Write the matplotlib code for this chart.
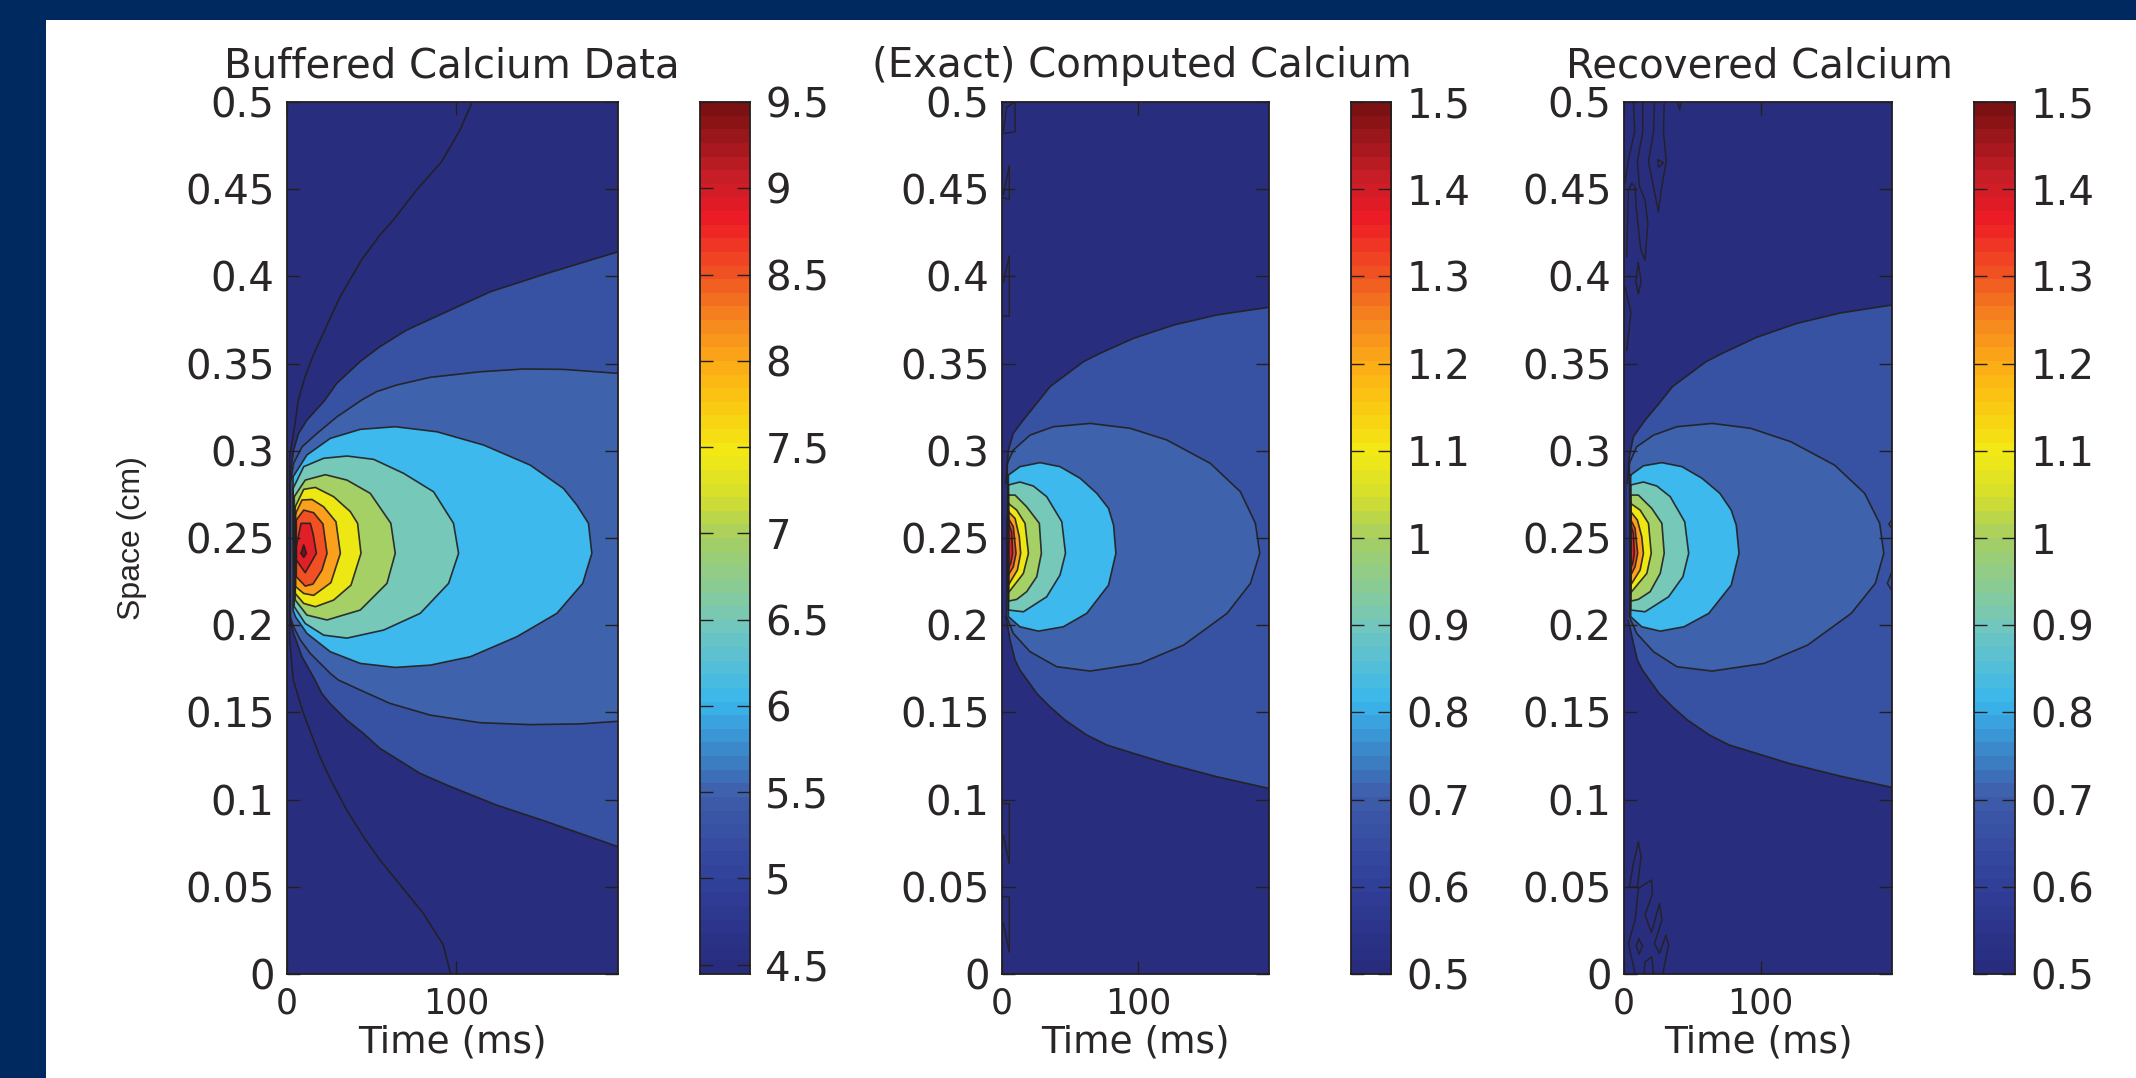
import matplotlib
matplotlib.use("Agg")
import matplotlib.pyplot as plt
import numpy as np
from matplotlib.colors import LinearSegmentedColormap
from matplotlib.patches import Rectangle

W, H = 2136, 1078
DARK = "#231f20"
TEXT = "#2a2627"
NAVY = "#002a5f"

time_ticks = [0, 100]
space_ticks = [0, 0.05, 0.1, 0.15, 0.2, 0.25, 0.3, 0.35, 0.4, 0.45, 0.5]
space_labels = ["0", "0.05", "0.1", "0.15", "0.2", "0.25", "0.3", "0.35", "0.4", "0.45", "0.5"]
titles = ["Buffered Calcium Data", "(Exact) Computed Calcium", "Recovered Calcium"]
cb1_ticks = [4.5, 5, 5.5, 6, 6.5, 7, 7.5, 8, 8.5, 9, 9.5]
cb2_ticks = [0.5, 0.6, 0.7, 0.8, 0.9, 1, 1.1, 1.2, 1.3, 1.4, 1.5]
cb1_range = (4.445, 9.5)
cb2_range = (0.5, 1.5)
time_max = 196

# contour colours, outermost to innermost
c_navy = "#282e7d"
c_blue = "#3752a2"
c_mid = "#3e63ac"
c_cyan = "#3db9ee"
c_teal = "#76c8b8"
c_green = "#a5d065"
c_yellow = "#ede813"
c_orange = "#fba01c"
c_redor = "#f15022"
c_red = "#e01f26"
c_peak = "#7a1214"

# panel 1 contours
p1_outer_t = [109.7, 102.4, 91.5, 76.7, 62.9, 55, 44.1, 31.4, 25.5, 15.6, 10.7, 6.7, 3.9, 1.6, 1.6, 3.7, 9.7, 19.5, 25.4, 35.3, 45.2, 55, 67.9, 80.7, 92.5, 96.8]
p1_outer_y = [0.5, 0.4839, 0.4657, 0.4495, 0.4323, 0.4237, 0.4094, 0.3883, 0.3759, 0.3549, 0.3425, 0.3291, 0.31, 0.2966, 0.1915, 0.1686, 0.1495, 0.1246, 0.1122, 0.0941, 0.0788, 0.0654, 0.0501, 0.0348, 0.0167, 0.0004]
p1_blue_t = [196, 153.9, 120.4, 94.5, 70.8, 55, 43.3, 29.4, 22.5, 11.8, 6.9, 3.9, 2, 2, 3.9, 8.9, 16.6, 20.5, 25.4, 35.3, 45.2, 55, 78.7, 94.5, 124, 153.6, 196]
p1_blue_y = [0.4141, 0.4017, 0.3912, 0.3797, 0.3692, 0.3597, 0.3511, 0.3386, 0.3291, 0.3176, 0.31, 0.3004, 0.287, 0.2029, 0.1953, 0.1819, 0.1686, 0.161, 0.1552, 0.1457, 0.138, 0.1294, 0.1151, 0.1084, 0.0969, 0.0874, 0.073]
p1_mid_t = [196, 163.5, 139.8, 114.2, 84.6, 64.9, 53, 44.2, 29.6, 17.8, 8.9, 3.9, 2, 2, 3.9, 7.9, 13.8, 25.6, 30.4, 43.2, 60.9, 84.6, 114.2, 143.8, 173.4, 196]
p1_mid_y = [0.3444, 0.3467, 0.3469, 0.3453, 0.3421, 0.3377, 0.3339, 0.3291, 0.3195, 0.31, 0.3023, 0.2928, 0.2813, 0.2049, 0.1991, 0.1915, 0.1838, 0.1724, 0.1686, 0.1629, 0.1552, 0.1485, 0.1441, 0.143, 0.1434, 0.1449]
p1_cyan_t = [3.6, 11.8, 25.6, 43.4, 64.1, 88.8, 116.4, 144, 163.7, 171.6, 178.5, 180.5, 175.1, 159.8, 136.1, 108.5, 84.8, 64.1, 43.4, 25.6, 11.8, 5, 3.6]
p1_cyan_y = [0.2851, 0.2976, 0.3071, 0.3123, 0.3138, 0.3109, 0.3033, 0.2918, 0.2784, 0.2689, 0.2584, 0.2412, 0.224, 0.2068, 0.1934, 0.1819, 0.1771, 0.1758, 0.1781, 0.1848, 0.1953, 0.2049, 0.2087]
p1_teal_t = [3.6, 9.9, 21.7, 35.5, 51.3, 69, 86.8, 98.6, 101.6, 95.7, 78.9, 57.2, 35.5, 21.7, 10.8, 4.3]
p1_teal_y = [0.2784, 0.2909, 0.2957, 0.297, 0.2951, 0.2871, 0.2765, 0.2584, 0.2412, 0.224, 0.2068, 0.1972, 0.1926, 0.1943, 0.201, 0.2106]
p1_green_t = [4.3, 10.8, 22.7, 35.5, 49.3, 61.5, 64.1, 59.2, 43.4, 23.7, 11.8, 4.9]
p1_green_y = [0.2737, 0.2832, 0.2863, 0.2832, 0.2756, 0.2584, 0.2412, 0.224, 0.2087, 0.203, 0.2058, 0.2144]
p1_yellow_t = [4.9, 9.9, 16.8, 27.6, 37.5, 41.8, 43.8, 37.9, 27.6, 16.8, 9.9, 4.9]
p1_yellow_y = [0.2679, 0.2779, 0.279, 0.2737, 0.2651, 0.2584, 0.2412, 0.223, 0.2144, 0.2106, 0.2125, 0.2182]
p1_orange_t = [5.1, 8.9, 14.8, 21.7, 29, 31.6, 26, 15.8, 9.9, 5.1]
p1_orange_y = [0.2641, 0.2718, 0.2721, 0.2679, 0.2593, 0.2412, 0.2244, 0.2171, 0.2182, 0.2221]
p1_redor_t = [5.5, 9.9, 15.8, 21.3, 23.7, 20.7, 15.4, 10.8, 5.5]
p1_redor_y = [0.2603, 0.266, 0.2645, 0.258, 0.2412, 0.2316, 0.2236, 0.2224, 0.2278]
p1_red_t = [5.5, 8.3, 13.8, 15.4, 17.4, 10.8, 5.5]
p1_red_y = [0.245, 0.2584, 0.2584, 0.2526, 0.2412, 0.2301, 0.2374]
p1_peak_t = [8.3, 9.9, 11.5, 9.9]
p1_peak_y = [0.2412, 0.246, 0.2412, 0.2389]

# panel 2 contours
p2_blue_t = [2.9, 4.7, 8.3, 15.7, 25.5, 35.3, 59.8, 72, 96.6, 126, 157.8, 196, 196, 157.8, 121, 96.6, 77, 62.3, 46.3, 35.3, 25.5, 19.4, 13.2, 9.6, 5.9, 2.9]
p2_blue_y = [0.2813, 0.3004, 0.31, 0.3177, 0.3272, 0.3368, 0.3511, 0.3559, 0.3645, 0.3721, 0.3779, 0.3823, 0.1064, 0.1131, 0.1207, 0.1265, 0.1313, 0.137, 0.1456, 0.1532, 0.1609, 0.1676, 0.1743, 0.18, 0.1915, 0.2049]
p2_mid_t = [3.9, 8.3, 20.6, 37.7, 64.7, 94.1, 121, 152.9, 175, 186, 189.2, 182.4, 165.2, 133.3, 101.5, 64.7, 40.2, 20.6, 8.3, 3.4]
p2_mid_y = [0.2928, 0.3004, 0.309, 0.3138, 0.3157, 0.3129, 0.3062, 0.2928, 0.2765, 0.2584, 0.2412, 0.224, 0.2068, 0.1886, 0.1781, 0.1737, 0.1762, 0.1848, 0.1953, 0.2049]
p2_cyan_t = [4.7, 13.2, 27.9, 42.6, 57.4, 69.6, 78.2, 81.9, 83.6, 78.2, 62.2, 45, 26.7, 13.2, 4.7]
p2_cyan_y = [0.2861, 0.2909, 0.2932, 0.2909, 0.2842, 0.2756, 0.267, 0.2574, 0.2412, 0.223, 0.2068, 0.1991, 0.1966, 0.1991, 0.2049]
p2_teal_t = [4.7, 13.2, 23, 32.8, 43.9, 46.6, 42.6, 32.8, 15.7, 4.7]
p2_teal_y = [0.2804, 0.2821, 0.2798, 0.2737, 0.2593, 0.2412, 0.2288, 0.2163, 0.2077, 0.2087]
p2_green_t = [4.7, 9.6, 18.1, 27.4, 28.9, 25.5, 18.1, 10.8, 4.7]
p2_green_y = [0.2746, 0.2746, 0.2679, 0.2584, 0.2412, 0.2278, 0.2192, 0.2148, 0.2138]
p2_yellow_t = [4.7, 10.8, 16.9, 19.4, 15.7, 4.7]
p2_yellow_y = [0.2698, 0.266, 0.2584, 0.2412, 0.2297, 0.2186]
p2_orange_t = [4.7, 9.6, 12.7, 13.7, 11.3, 4.7]
p2_orange_y = [0.2651, 0.2612, 0.2507, 0.2412, 0.2316, 0.223]
p2_redor_t = [3.9, 8.3, 10.3, 8.3, 3.9]
p2_redor_y = [0.2622, 0.2565, 0.2412, 0.2335, 0.2278]
p2_red_t = [3.9, 7.1, 7.8, 6.4, 3.9]
p2_red_y = [0.2603, 0.2536, 0.2412, 0.2354, 0.2316]

# panel 2 small contours along the left edge
p2_noise = [
    ([1, 3.4, 9.6, 9.6, 1], [0.4835, 0.4969, 0.5, 0.4829, 0.4819]),
    ([1, 5.4, 5.4, 1], [0.4468, 0.4635, 0.4441, 0.4451]),
    ([1, 5.4, 5.4, 1], [0.3967, 0.4117, 0.3773, 0.3773]),
    ([1, 5.4, 5.4, 1], [0.0977, 0.0977, 0.0633, 0.0794]),
    ([1, 5.4, 5.4, 1], [0.0443, 0.0443, 0.0126, 0.0293]),
]

# panel 3 contours
p3_blue_t = [2.5, 3.9, 6.9, 15.6, 25.7, 35.5, 60, 72, 96.8, 126.2, 158, 196, 196, 158, 121, 97, 77, 62.5, 46.5, 35.5, 25.7, 19.6, 13.5, 9.8, 6.9, 3.2]
p3_blue_y = [0.2813, 0.2966, 0.3081, 0.3177, 0.3272, 0.3368, 0.3511, 0.3559, 0.365, 0.373, 0.379, 0.3836, 0.107, 0.1135, 0.1207, 0.1265, 0.1313, 0.137, 0.1456, 0.1532, 0.1609, 0.1676, 0.1743, 0.18, 0.1896, 0.2029]
p3_mid_t = [3.9, 9.3, 21.6, 38.7, 64.5, 92.6, 122, 154, 176, 187, 190, 183.8, 166.2, 134.3, 102.5, 64.5, 38.7, 21.6, 9.3, 3.9]
p3_mid_y = [0.2928, 0.3023, 0.309, 0.3138, 0.3157, 0.3129, 0.3052, 0.2918, 0.2756, 0.2584, 0.2412, 0.224, 0.2068, 0.1886, 0.1781, 0.1737, 0.1762, 0.1848, 0.1953, 0.2049]
p3_cyan_t = [4.9, 14.2, 27.7, 42.4, 57.1, 70.1, 78.4, 82.1, 84.1, 78.4, 62, 43.9, 26.5, 13, 4.9]
p3_cyan_y = [0.2861, 0.2914, 0.2932, 0.2909, 0.2842, 0.2756, 0.266, 0.2574, 0.2412, 0.223, 0.2068, 0.1991, 0.1966, 0.1991, 0.2049]
p3_teal_t = [4.9, 14.2, 24, 33.8, 44.4, 47.3, 43.1, 32.6, 15.4, 4.9]
p3_teal_y = [0.2804, 0.2821, 0.2798, 0.2737, 0.2593, 0.2412, 0.2278, 0.2163, 0.2077, 0.2087]
p3_green_t = [4.9, 10.5, 20.3, 27.7, 29.4, 26.5, 19.1, 10.5, 4.9]
p3_green_y = [0.2746, 0.2746, 0.267, 0.2584, 0.2412, 0.2297, 0.2192, 0.2148, 0.2138]
p3_yellow_t = [4.9, 11.8, 17.9, 19.9, 16.7, 4.9]
p3_yellow_y = [0.2698, 0.266, 0.2584, 0.2412, 0.2297, 0.2186]
p3_orange_t = [4.9, 9.8, 13, 14.2, 11.8, 4.9]
p3_orange_y = [0.2651, 0.2603, 0.2507, 0.2412, 0.2316, 0.223]
p3_redor_t = [4.4, 8.1, 10, 8.1, 4.4]
p3_redor_y = [0.2612, 0.2555, 0.2412, 0.2335, 0.2278]
p3_red_t = [4.4, 6.9, 7.6, 6.4, 4.4]
p3_red_y = [0.2593, 0.2526, 0.2412, 0.2354, 0.2316]

# panel 3 small contours near the edges
p3_noise = [
    ([6.9, 7.8, 3.2, 0.7], [0.5002, 0.483, 0.4668, 0.4534]),
    ([13.7, 13.7, 9.8, 11.3, 15.4, 17.4, 15.4, 12.3, 8.8, 8.1, 5.6, 3.2, 2],
     [0.5002, 0.483, 0.4658, 0.4515, 0.4438, 0.4304, 0.4094, 0.4152, 0.44, 0.4515, 0.4534, 0.4496, 0.4113]),
    ([22.3, 21.6, 17.9, 25.2, 27.2, 30.9, 28.9, 29.4], [0.5002, 0.483, 0.4658, 0.4371, 0.4496, 0.4658, 0.483, 0.5002]),
    ([24.8, 28.9, 25.2, 24.8], [0.4668, 0.4652, 0.4626, 0.4668]),
    ([39.2, 40.7, 41.9], [0.5002, 0.4954, 0.5002]),
    ([10.5, 12.5, 10.5, 8.6, 10.5], [0.4075, 0.397, 0.3899, 0.397, 0.4075]),
    ([0.7, 5.1, 2], [0.3941, 0.3792, 0.3578]),
    ([10.5, 12.5, 9.8, 3.9, 6.9, 10.5], [0.0755, 0.0672, 0.05, 0.0497, 0.0634, 0.0755]),
    ([9.8, 10.5, 20.1, 20.8, 15.4, 20.1, 26, 27.7, 22.3, 26, 30.6, 32.6, 28.4],
     [0.05, 0.0491, 0.0539, 0.0462, 0.0338, 0.0237, 0.0405, 0.0309, 0.0175, 0.0118, 0.0223, 0.0166, 0.0003]),
    ([10.5, 8.1, 3.2, 8.1], [0.0491, 0.0309, 0.0175, 0.0003]),
    ([11, 13.5, 11, 8.8, 11], [0.02, 0.0162, 0.0114, 0.0162, 0.02]),
    ([14.7, 15.4, 20.3, 21.6], [0.0003, 0.007, 0.0099, 0.0003]),
    ([196, 193.6, 196], [0.2603, 0.258, 0.2555]),
    ([196, 192.6, 196], [0.2307, 0.224, 0.2198]),
]

jet_stops = [
    (0.0, "#282c7e"), (0.1, "#31409a"), (0.2, "#3f5dab"), (0.25, "#3c86c9"),
    (0.31, "#3ab7ee"), (0.4, "#74c8bc"), (0.5, "#a6cf63"), (0.55, "#d6df2d"),
    (0.6, "#f3ea14"), (0.68, "#fdbb13"), (0.75, "#f78a1f"), (0.8, "#f15a22"),
    (0.87, "#ee1c25"), (0.92, "#c81e27"), (1.0, "#7b1113"),
]
cmap = LinearSegmentedColormap.from_list("print_jet", jet_stops, N=64)

plt.rcParams["font.family"] = ["DejaVu Sans"]
plt.rcParams["font.size"] = 29
plt.rcParams["text.color"] = TEXT
plt.rcParams["axes.labelcolor"] = TEXT
plt.rcParams["xtick.labelcolor"] = TEXT
plt.rcParams["ytick.labelcolor"] = TEXT


def place_axes(fig, left, top, right, bottom):
    return fig.add_axes([left / W, 1 - bottom / H, (right - left) / W, (bottom - top) / H])


def style_box(ax):
    for spine in ax.spines.values():
        spine.set_color(DARK)
        spine.set_linewidth(1.3)
    ax.set_axisbelow(False)


def draw_contour(ax, t, y, color, closed=True):
    ax.fill(t, y, facecolor=color, edgecolor="none", zorder=1)
    if closed:
        ax.plot(list(t) + [t[0]], list(y) + [y[0]], color=DARK, lw=1.2, alpha=0.9, zorder=2)
    else:
        ax.plot(t, y, color=DARK, lw=1.2, alpha=0.9, zorder=2)


def draw_field(ax, title, title_x, contours, noise=()):
    ax.set_facecolor(c_navy)
    for item in contours:
        draw_contour(ax, *item)
    for t, y in noise:
        ax.plot(t, y, color=DARK, lw=1.1, alpha=0.85, zorder=2)
    ax.set_xlim(0, time_max)
    ax.set_ylim(0, 0.5)
    ax.set_xticks(time_ticks)
    ax.set_yticks(space_ticks)
    ax.set_yticklabels(space_labels)
    ax.tick_params(direction="in", length=9.4, width=1.0, color=DARK, top=True, right=True, pad=9)
    ax.tick_params(axis="x", pad=9, labelsize=25)
    style_box(ax)
    fig = ax.figure
    fig.text(title_x / W, 1 - 66 / H, title, ha="center", va="center")
    ax_box = ax.get_position()
    fig.text((ax_box.x0 + ax_box.x1) / 2, 1 - 1042 / H, "Time (ms)", ha="center", va="center", fontsize=27)


def draw_bar(ax, ticks, vrange):
    vals = np.linspace(vrange[0], vrange[1], 64).reshape(-1, 1)
    ax.imshow(vals, cmap=cmap, aspect="auto", origin="lower", interpolation="nearest",
              extent=[0, 1, vrange[0], vrange[1]], vmin=vrange[0], vmax=vrange[1])
    ax.set_xticks([])
    ax.yaxis.tick_right()
    ax.set_yticks(ticks)
    ax.set_yticklabels([f"{v:g}" for v in ticks])
    ax.set_ylim(vrange)
    ax.tick_params(direction="in", length=9.4, width=1.0, color=DARK, left=True, right=True, pad=11)
    style_box(ax)


fig = plt.figure(figsize=(W / 100, H / 100), dpi=100, facecolor=NAVY)
fig.add_artist(Rectangle((46 / W, 0), 1 - 46 / W, 1 - 20 / H, transform=fig.transFigure,
                         facecolor="white", edgecolor="none", zorder=-5))

ax1 = place_axes(fig, 287, 102, 618, 974)
ax2 = place_axes(fig, 1002, 102, 1269, 974)
ax3 = place_axes(fig, 1624, 102, 1892, 974)
cb1 = place_axes(fig, 700, 102, 750, 974)
cb2 = place_axes(fig, 1351, 102, 1391, 974)
cb3 = place_axes(fig, 1974, 102, 2015, 974)

# outer contour of panel 1 runs top edge to bottom edge, same navy on both sides
ax1.plot(p1_outer_t, p1_outer_y, color=DARK, lw=1.2, alpha=0.9, zorder=2)

draw_field(ax1, titles[0], 452, [
    (p1_blue_t, p1_blue_y, c_blue, False),
    (p1_mid_t, p1_mid_y, c_mid, False),
    (p1_cyan_t, p1_cyan_y, c_cyan),
    (p1_teal_t, p1_teal_y, c_teal),
    (p1_green_t, p1_green_y, c_green),
    (p1_yellow_t, p1_yellow_y, c_yellow),
    (p1_orange_t, p1_orange_y, c_orange),
    (p1_redor_t, p1_redor_y, c_redor),
    (p1_red_t, p1_red_y, c_red),
    (p1_peak_t, p1_peak_y, c_peak),
])

draw_field(ax2, titles[1], 1142, [
    (p2_blue_t, p2_blue_y, c_blue, False),
    (p2_mid_t, p2_mid_y, c_mid),
    (p2_cyan_t, p2_cyan_y, c_cyan),
    (p2_teal_t, p2_teal_y, c_teal),
    (p2_green_t, p2_green_y, c_green),
    (p2_yellow_t, p2_yellow_y, c_yellow),
    (p2_orange_t, p2_orange_y, c_orange),
    (p2_redor_t, p2_redor_y, c_redor),
    (p2_red_t, p2_red_y, c_red),
], noise=p2_noise)

draw_field(ax3, titles[2], 1759, [
    (p3_blue_t, p3_blue_y, c_blue, False),
    (p3_mid_t, p3_mid_y, c_mid),
    (p3_cyan_t, p3_cyan_y, c_cyan),
    (p3_teal_t, p3_teal_y, c_teal),
    (p3_green_t, p3_green_y, c_green),
    (p3_yellow_t, p3_yellow_y, c_yellow),
    (p3_orange_t, p3_orange_y, c_orange),
    (p3_redor_t, p3_redor_y, c_redor),
    (p3_red_t, p3_red_y, c_red),
], noise=p3_noise)

draw_bar(cb1, cb1_ticks, cb1_range)
draw_bar(cb2, cb2_ticks, cb2_range)
draw_bar(cb3, cb2_ticks, cb2_range)

fig.text(132 / W, 1 - 538 / H, "Space (cm)", rotation=90, ha="center", va="center",
         fontsize=23, family=["Liberation Sans Narrow", "Liberation Sans"])

fig.savefig("out.png", dpi=100, facecolor=fig.get_facecolor())
